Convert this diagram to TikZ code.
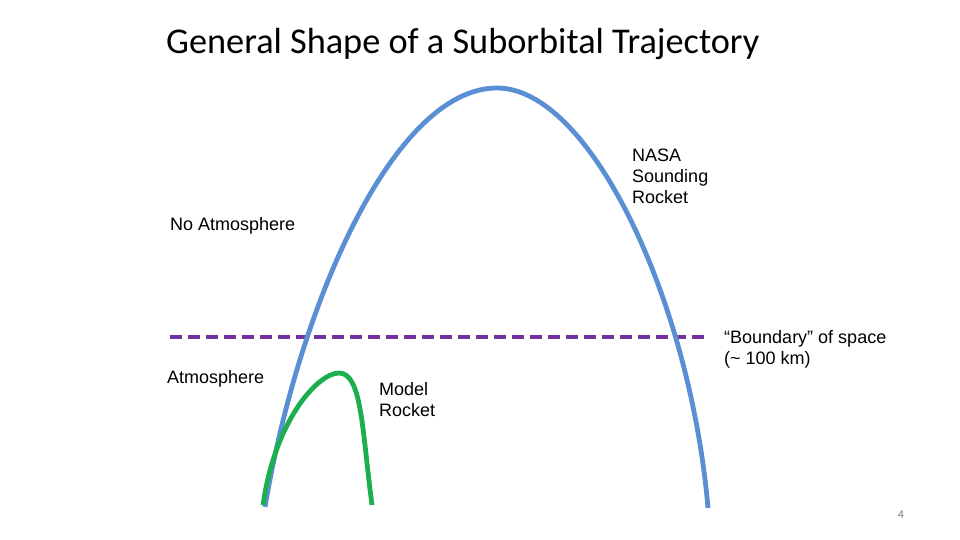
\documentclass[tikz,border=0pt]{standalone}
\usepackage{fontspec}
\setmainfont{Liberation Sans}
\newfontfamily\titlefont{Carlito}
\usepackage{xcolor}
\usetikzlibrary{positioning}
\definecolor{SoundingBlue}{HTML}{5B8FD4}
\definecolor{ModelGreen}{HTML}{1DAF4E}
\definecolor{LinePurple}{HTML}{7030A0}

\begin{document}
\begin{tikzpicture}[x=1pt, y=-1pt, every node/.style={font=\fontsize{18}{21}\selectfont, inner sep=0pt}, lbl/.style={anchor=west, align=left}, path/.style={line width=4.8pt, line cap=butt}, bound/.style={LinePurple, line width=3.5pt, dash pattern=on 12pt off 6pt}]
\useasboundingbox (0,0) rectangle (960,540);
% title and page number
\node[anchor=west, font=\titlefont\fontsize{36.3}{40}\selectfont] (title) at (166,44) {General Shape of a Suborbital Trajectory};
\node[font=\titlefont\fontsize{12}{14}\selectfont, text=gray] (page) at (901,515) {4};
% boundary of space
\coordinate (bl) at (170,337);
\coordinate (br) at (707,337);
\draw[bound] (bl) -- (br);
% trajectories
\coordinate (blaunch) at (265,507);
\coordinate (bapex) at (497,88);
\coordinate (bland) at (708,508);
\coordinate (glaunch) at (263,505);
\coordinate (gapex) at (339,373);
\coordinate (gland) at (372,505);
\draw[path, SoundingBlue] (blaunch) .. controls (300,300) and (395,88) .. (bapex) .. controls (590,88) and (690,300) .. (bland);
\draw[path, ModelGreen] (glaunch) .. controls (275,420) and (318,373) .. (gapex) .. controls (362,373) and (362,430) .. (gland);
% labels
\node[lbl] (nasa) at (632,176) {NASA\\Sounding\\Rocket};
\node[lbl] (noatm) at (170,226) {No Atmosphere};
\node[lbl] (atm) at (167,379) {Atmosphere};
\node[lbl] (model) at (379,400) {Model\\Rocket};
\node[lbl] (space) at (724,349) {“Boundary” of space\\(\char`~\ 100 km)};
\end{tikzpicture}
\end{document}
